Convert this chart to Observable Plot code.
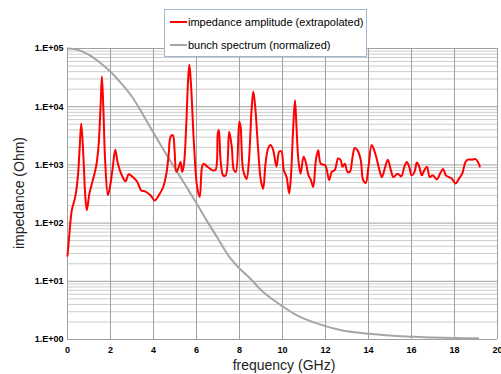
<!DOCTYPE html>
<html><head><meta charset="utf-8">
<script src="https://cdn.jsdelivr.net/npm/d3@7"></script>
<script src="https://cdn.jsdelivr.net/npm/@observablehq/plot@0.6"></script>
<style>
body{margin:0;background:#fff;font-family:"Liberation Sans",Arial,sans-serif;overflow:hidden}
#wrap{position:relative;width:501px;height:374px;overflow:hidden}
#chart{position:absolute;left:0;top:0}
#legend{position:absolute;left:164px;top:9px;width:203px;height:48px;border:1px solid #a3b6cc;background:#fff;box-sizing:border-box;font-size:11px;color:#000}
.item{position:absolute;left:5px;display:flex;align-items:center;height:14px;white-space:nowrap}
.sw{width:17px;height:2px;margin-right:1px}
.title{position:absolute;font-size:14px;line-height:16px;height:16px;width:200px;text-align:center;color:#222;white-space:nowrap}
#xt{left:184px;top:357px}
#yt{left:-81px;top:185px;transform:rotate(-90deg)}
</style></head>
<body><div id="wrap"><div id="chart"></div>
<div id="legend">
 <div class="item" style="top:5px"><span class="sw" style="background:#ff0000"></span><span id="l1"></span></div>
 <div class="item" style="top:28px"><span class="sw" style="background:#a6a6a6"></span><span id="l2"></span></div>
</div>
<div class="title" id="xt"></div>
<div class="title" id="yt"></div>
</div>
<script>
const seriesNames = ["impedance amplitude (extrapolated)", "bunch spectrum (normalized)"];
const xTitle = "frequency (GHz)";
const yTitle = "impedance (Ohm)";

const impFreq = [0.0,0.09,0.2,0.36,0.48,0.56,0.64,0.74,0.82,0.9,1.02,1.18,1.33,1.44,1.53,1.6,1.67,1.75,1.88,2.0,2.11,2.22,2.34,2.53,2.7,2.85,3.04,3.24,3.43,3.58,3.86,4.05,4.25,4.45,4.6,4.71,4.79,4.9,4.98,5.06,5.15,5.26,5.33,5.41,5.52,5.61,5.67,5.75,5.88,6.03,6.15,6.26,6.34,6.5,6.73,6.88,6.99,7.04,7.12,7.24,7.36,7.52,7.64,7.74,7.83,7.99,8.05,8.17,8.33,8.44,8.56,8.64,8.73,8.87,8.99,9.1,9.21,9.33,9.45,9.57,9.72,9.85,9.95,10.06,10.19,10.31,10.39,10.5,10.58,10.65,10.74,10.84,10.98,11.08,11.21,11.32,11.43,11.55,11.66,11.78,11.99,12.17,12.29,12.43,12.59,12.71,12.79,12.9,13.02,13.13,13.26,13.36,13.49,13.64,13.75,13.87,14.0,14.15,14.31,14.47,14.62,14.78,14.9,15.04,15.16,15.36,15.52,15.67,15.78,15.89,16.01,16.14,16.25,16.36,16.48,16.6,16.72,16.85,17.0,17.18,17.33,17.47,17.6,17.74,17.89,18.05,18.2,18.36,18.51,18.62,18.82,18.98,19.09,19.18];
const impedance = [27.5,66,166,282,617,1778,5129,1380,324,166,324,550,933,2042,8710,33113,8710,1202,302,479,933,1820,1072,661,525,692,617,513,363,355,302,245,302,417,708,1585,3020,3236,1778,759,871,1122,759,977,4571,28840,52480,21880,2344,417,282,933,1047,933,813,813,3467,3981,1202,661,661,3715,2042,813,759,5495,4571,813,575,1202,8710,18197,10000,1778,550,389,1047,1905,2188,1778,933,1698,1698,813,617,324,617,4571,12882,4571,1202,708,1380,1122,661,550,417,1202,1778,1047,977,550,759,813,1288,1202,933,1047,759,759,1380,1950,1778,1202,550,490,933,2188,1585,933,617,933,1230,813,617,708,631,933,1122,933,661,759,1096,933,661,813,933,617,661,562,708,851,661,617,575,479,575,708,1122,1230,1230,1259,1122,933];

const specFreq = [0,0.5,1,1.5,2,2.5,3,3.5,4,4.5,5,5.5,6,6.5,7,7.5,8,8.5,9,9.5,10,10.5,11,11.5,12,12.5,13,13.5,14,15,16,17,18,19.1];
const spectrum = [100000,94400,77600,57500,39800,25100,14800,7410,3550,1740,871,437,219,107,54,27,16.6,11.2,7.08,5.01,3.72,2.82,2.29,1.95,1.70,1.51,1.38,1.32,1.26,1.17,1.12,1.08,1.06,1.05];

const xTicks = [0,2,4,6,8,10,12,14,16,18,20];
const yTicks = [1,10,100,1000,10000,100000];
const yTickLabels = ["1.E+00","1.E+01","1.E+02","1.E+03","1.E+04","1.E+05"];
const minorMult = [2,3,4,5,6,7,8,9];
const minorY = yTicks.slice(0,-1).flatMap(d => minorMult.map(m => d*m));

document.getElementById("l1").textContent = seriesNames[0];
document.getElementById("l2").textContent = seriesNames[1];
document.getElementById("xt").textContent = xTitle;
document.getElementById("yt").textContent = yTitle;

const imp = impFreq.map((f,i)=>({f, v: impedance[i]}));
const spec = specFreq.map((f,i)=>({f, v: spectrum[i]}));

const chart = Plot.plot({
  width: 501, height: 374,
  marginLeft: 67, marginRight: 4, marginTop: 48, marginBottom: 35,
  style: {fontFamily: "Liberation Sans, Arial, sans-serif", background: "transparent", color: "#000"},
  x: {domain: [0,20], label: null},
  y: {type: "log", domain: [1,100000], label: null},
  marks: [
    Plot.ruleY(minorY, {stroke: "#cccccc", strokeWidth: 1}),
    Plot.ruleY(yTicks, {stroke: "#a0a0a0", strokeWidth: 1}),
    Plot.ruleX(xTicks, {stroke: "#a0a0a0", strokeWidth: 1}),
    Plot.axisY({ticks: yTicks, tickFormat: d => yTickLabels[yTicks.indexOf(d)], tickSize: 0, tickPadding: 4, fontSize: 9, fontWeight: "bold", label: null}),
    Plot.axisX({ticks: xTicks, tickFormat: d => String(d), tickSize: 0, tickPadding: 7, fontSize: 9, fontWeight: "bold", label: null}),
    Plot.line(spec, {x: "f", y: "v", stroke: "#a6a6a6", strokeWidth: 2, curve: "catmull-rom"}),
    Plot.line(imp, {x: "f", y: "v", stroke: "#ff0000", strokeWidth: 2, curve: "catmull-rom"})
  ]
});
document.getElementById("chart").appendChild(chart);
</script>
</body></html>
